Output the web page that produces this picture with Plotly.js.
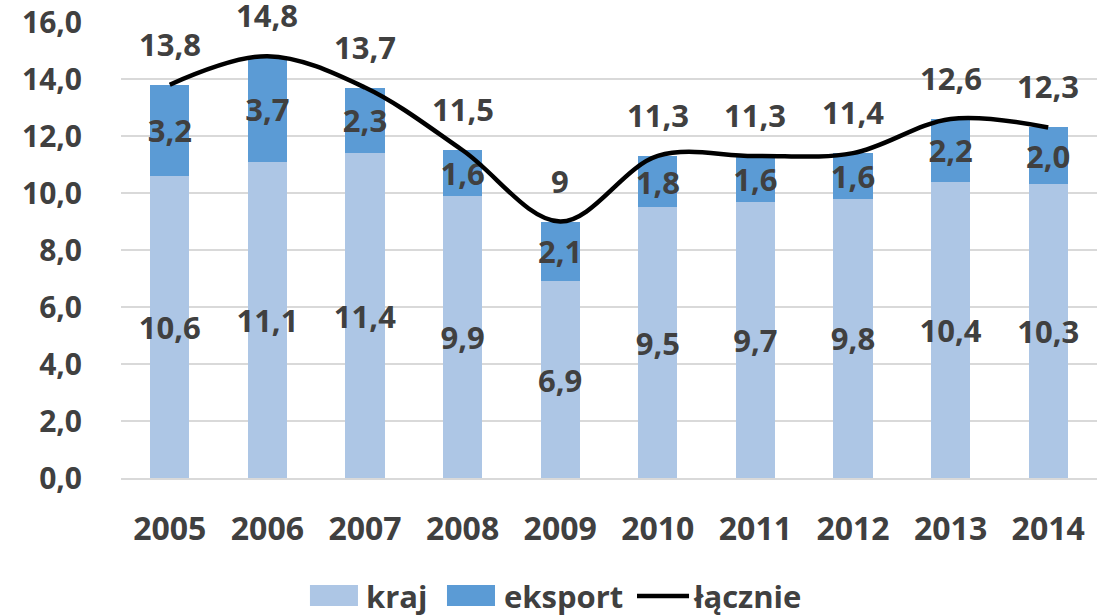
<!DOCTYPE html>
<html>
<head>
<meta charset="utf-8">
<script src="https://cdn.plot.ly/plotly-3.0.1.min.js"></script>
<style>html,body{margin:0;padding:0;background:#fff;}#chart{width:1112px;height:616px;}</style>
</head>
<body>
<div id="chart"></div>
<script>
const years = [2005, 2006, 2007, 2008, 2009, 2010, 2011, 2012, 2013, 2014];
const yearLabels = ['2005','2006','2007','2008','2009','2010','2011','2012','2013','2014'];
const kraj = [10.6, 11.1, 11.4, 9.9, 6.9, 9.5, 9.7, 9.8, 10.4, 10.3];
const eksport = [3.2, 3.7, 2.3, 1.6, 2.1, 1.8, 1.6, 1.6, 2.2, 2.0];
const lacznie = [13.8, 14.8, 13.7, 11.5, 9, 11.3, 11.3, 11.4, 12.6, 12.3];
const yTicks = [0, 2, 4, 6, 8, 10, 12, 14, 16];
const yTickLabels = ['0,0','2,0','4,0','6,0','8,0','10,0','12,0','14,0','16,0'];
const seriesNames = ['kraj', 'eksport', 'łącznie'];

const FONT = 'Open Sans, Liberation Sans, Arial, sans-serif';
const TXT = '#404040';
const C_KRAJ = '#ADC6E5';
const C_EKS = '#5B9BD5';
const fmt1 = v => v.toFixed(1).replace('.', ',');
const fmtTot = v => String(v).replace('.', ',');
const labelFont = {family: FONT, size: 31, color: TXT, weight: 'bold'};

const traces = [
  {
    type: 'bar', name: seriesNames[0], x: years, y: kraj, width: 0.4,
    marker: {color: C_KRAJ},
    text: kraj.map(fmt1), textposition: 'inside', insidetextanchor: 'middle',
    textangle: 0, constraintext: 'none', cliponaxis: false,
    textfont: labelFont, hoverinfo: 'none'
  },
  {
    type: 'bar', name: seriesNames[1], x: years, y: eksport, width: 0.4,
    marker: {color: C_EKS},
    text: eksport.map(fmt1), textposition: 'inside', insidetextanchor: 'middle',
    textangle: 0, constraintext: 'none', cliponaxis: false,
    textfont: labelFont, hoverinfo: 'none'
  },
  {
    type: 'scatter', mode: 'lines', name: seriesNames[2], x: years, y: lacznie,
    line: {color: '#000000', width: 4.5, shape: 'spline', smoothing: 1},
    cliponaxis: false, hoverinfo: 'none'
  }
];

const annotations = years.map((yr, i) => ({
  x: yr, y: lacznie[i], xref: 'x', yref: 'y',
  text: fmtTot(lacznie[i]), showarrow: false, yshift: 41,
  font: labelFont
}));

// Custom legend (Excel-style wide swatches) below the plot
const legFont = {family: FONT, size: 31, color: TXT, weight: 'bold'};
const legY = -0.2588;
const shapes = [
  {type: 'rect', xref: 'paper', yref: 'paper', x0: 0.1936, x1: 0.2428, y0: -0.2346, y1: -0.2807,
   fillcolor: C_KRAJ, line: {width: 0}},
  {type: 'rect', xref: 'paper', yref: 'paper', x0: 0.3340, x1: 0.3832, y0: -0.2346, y1: -0.2807,
   fillcolor: C_EKS, line: {width: 0}},
  {type: 'line', xref: 'paper', yref: 'paper', x0: 0.5287, x1: 0.5820, y0: legY, y1: legY,
   line: {color: '#000000', width: 4.5}}
];
const legX = [0.249, 0.390, 0.584];
seriesNames.forEach((n, i) => annotations.push({
  xref: 'paper', yref: 'paper', x: legX[i], y: legY, xanchor: 'left', yanchor: 'middle',
  text: n, showarrow: false, font: legFont
}));

const layout = {
  width: 1112, height: 616,
  margin: {l: 121, r: 15, t: 22, b: 138, autoexpand: false},
  paper_bgcolor: '#ffffff', plot_bgcolor: '#ffffff',
  barmode: 'stack',
  showlegend: false,
  xaxis: {
    type: 'linear', range: [2004.5, 2014.5], tickvals: years, ticktext: yearLabels,
    showgrid: false, showline: true, linecolor: '#D9D9D9', linewidth: 2, zeroline: false,
    ticks: 'outside', ticklen: 22, tickcolor: 'rgba(0,0,0,0)', automargin: false,
    tickfont: {family: FONT, size: 32, color: TXT, weight: 'bold'},
    fixedrange: true
  },
  yaxis: {
    range: [0, 16], tickvals: yTicks, ticktext: yTickLabels,
    showgrid: true, gridcolor: '#D9D9D9', gridwidth: 1.5, zeroline: false,
    showline: false, ticks: 'outside', ticklen: 32, tickcolor: 'rgba(0,0,0,0)', automargin: false,
    tickfont: {family: FONT, size: 30, color: TXT, weight: 'bold'},
    fixedrange: true
  },
  shapes: shapes,
  annotations: annotations
};

Plotly.newPlot('chart', traces, layout, {displayModeBar: false, staticPlot: true});
</script>
</body>
</html>
